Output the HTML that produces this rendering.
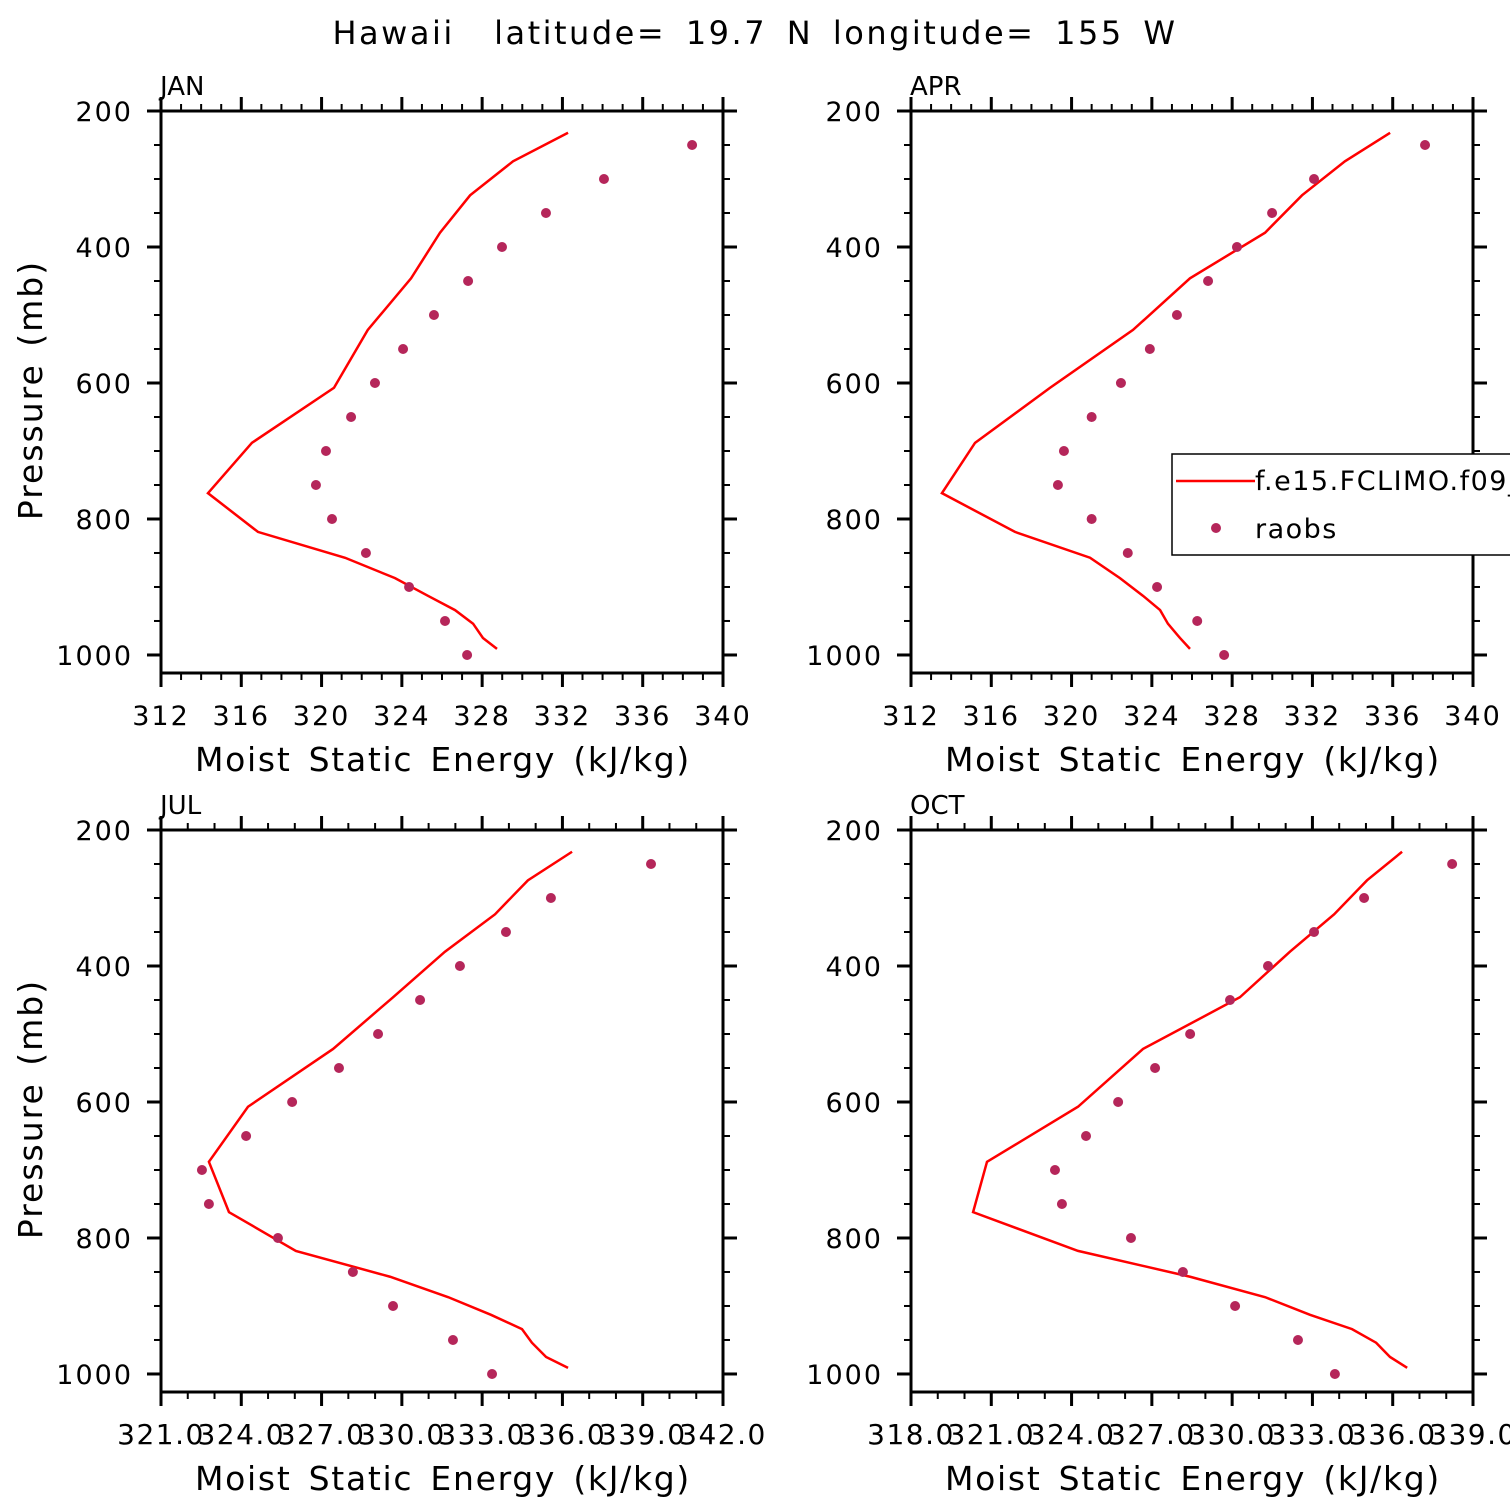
<!DOCTYPE html>
<html><head><meta charset="utf-8"><style>
body{margin:0;background:#fff}
svg{display:block}
text{font-family:"DejaVu Sans","Liberation Sans",sans-serif;fill:#000}
</style></head><body>
<svg id="chart" width="1510" height="1510" viewBox="0 0 1510 1510">
<rect width="1510" height="1510" fill="#fff"/>
<text x="755" y="44" font-size="32" text-anchor="middle" letter-spacing="2.5" word-spacing="7" xml:space="preserve">Hawaii  latitude= 19.7 N longitude= 155 W</text>
</svg>
<script>
const modelP=[232,274,324,379,446,522,607,688,762,819,857,887,913,934,954,975,991];
const obsP=[250,300,350,400,450,500,550,600,650,700,750,800,850,900,950,1000];
const janModel=[332.28,329.54,327.4,325.9,324.46,322.3,320.62,316.53,314.34,316.83,321.17,323.66,325.3,326.65,327.55,328.04,328.74];
const janObs=[338.46,334.07,331.18,328.99,327.3,325.6,324.06,322.66,321.47,320.22,319.72,320.52,322.21,324.36,326.15,327.25];
const aprModel=[335.87,333.62,331.48,329.64,325.9,323.06,318.93,315.19,313.54,317.18,320.92,322.41,323.56,324.41,324.8,325.4,325.9];
const aprObs=[337.61,332.08,329.99,328.24,326.8,325.25,323.9,322.46,321.0,319.62,319.32,321.0,322.8,324.26,326.26,327.6];
const julModel=[336.36,334.71,333.48,331.61,329.67,327.43,324.25,322.79,323.54,326.04,329.56,331.73,333.33,334.49,334.86,335.39,336.21];
const julObs=[339.31,335.57,333.89,332.17,330.68,329.11,327.65,325.9,324.18,322.53,322.79,325.37,328.17,329.67,331.91,333.37];
const octModel=[336.35,335.04,333.81,332.16,330.29,326.67,324.24,320.84,320.32,324.24,328.43,331.23,332.91,334.48,335.38,335.9,336.54];
const octObs=[338.22,334.93,333.06,331.34,329.92,328.43,327.12,325.74,324.54,323.38,323.64,326.22,328.16,330.11,332.46,333.84];
const pTicks=[200,400,600,800,1000];
const janTicks=[312,316,320,324,328,332,336,340];
const julTicks=[321,324,327,330,333,336,339,342];
const octTicks=[318,321,324,327,330,333,336,339];
const NS='http://www.w3.org/2000/svg';
const svg=document.getElementById('chart');
function mk(tag,attrs,parent){const e=document.createElementNS(NS,tag);for(const k in attrs)e.setAttribute(k,attrs[k]);(parent||svg).appendChild(e);return e;}
function panel(name,x0,y0,xmin,xmax,ticks,dec,model,obs){
  const W=562,H=562,pmin=200,pmax=1026.5;
  const g=mk('g',{});
  
  
  const X=v=>x0+(v-xmin)/(xmax-xmin)*W;
  const Y=p=>y0+(p-pmin)/(pmax-pmin)*H;
  const line=mk('polyline',{points:model.map((v,i)=>X(v)+','+Y(modelP[i])).join(' '),fill:'none',stroke:'#ff0000','stroke-width':2.5},g);
  
  
  obs.forEach((v,i)=>{const c=mk('circle',{cx:X(v),cy:Y(obsP[i]),r:5,fill:'#b5265a'},g);
    
    });
  mk('rect',{x:x0,y:y0,width:W,height:H,fill:'none',stroke:'#000','stroke-width':3},g);
  for(let v=xmin;v<=xmax+1e-6;v+=1){const maj=ticks.some(t=>Math.abs(t-v)<1e-6);const L=maj?14:7;const x=X(v);
    mk('line',{x1:x,y1:y0,x2:x,y2:y0-L,stroke:'#000','stroke-width':maj?3:2},g);
    mk('line',{x1:x,y1:y0+H,x2:x,y2:y0+H+L,stroke:'#000','stroke-width':maj?3:2},g);}
  ticks.forEach(t=>{const tx=mk('text',{x:X(t),y:y0+H+52,'font-size':dec?28:27,'text-anchor':'middle','letter-spacing':dec?1.5:2},g);tx.textContent=dec?t.toFixed(1):t;
    
    });
  for(let p=200;p<=1000;p+=50){const maj=p%200===0;const L=maj?14:7;const y=Y(p);
    mk('line',{x1:x0,y1:y,x2:x0-L,y2:y,stroke:'#000','stroke-width':maj?3:2},g);
    mk('line',{x1:x0+W,y1:y,x2:x0+W+L,y2:y,stroke:'#000','stroke-width':maj?3:2},g);}
  pTicks.forEach(p=>{const tx=mk('text',{x:x0-28,y:Y(p)+10,'font-size':27,'text-anchor':'end','letter-spacing':2},g);tx.textContent=p;
    
    });
  const t=mk('text',{x:x0-1,y:y0-16,'font-size':26},g);t.textContent=name;
  
  
  const xl=mk('text',{x:x0+W/2+1,y:y0+H+98,'font-size':33,'text-anchor':'middle','letter-spacing':1.7,'word-spacing':5},g);xl.textContent='Moist Static Energy (kJ/kg)';
  
  
  if(x0<500){const yl=mk('text',{x:0,y:0,'font-size':33,'text-anchor':'middle','letter-spacing':2,'word-spacing':4,transform:'translate(42,'+(y0+H/2-2)+') rotate(-90)'},g);yl.textContent='Pressure (mb)';
    
    }
}
panel('JAN',161,111,312,340,janTicks,false,janModel,janObs);
panel('APR',911,111,312,340,janTicks,false,aprModel,aprObs);
panel('JUL',161,830,321,342,julTicks,true,julModel,julObs);
panel('OCT',911,830,318,339,octTicks,true,octModel,octObs);
const lg=mk('g',{});


mk('rect',{x:1172,y:454,width:360,height:101,fill:'#fff',stroke:'#000','stroke-width':1.5},lg);
mk('line',{x1:1176,y1:481,x2:1255,y2:481,stroke:'#ff0000','stroke-width':2.5},lg);
const l1=mk('text',{x:1255,y:490,'font-size':27,'letter-spacing':1.5},lg);l1.textContent='f.e15.FCLIMO.f09_g16';


mk('circle',{cx:1216,cy:528,r:5,fill:'#b5265a'},lg);
const l2=mk('text',{x:1255,y:538,'font-size':27,'letter-spacing':1.5},lg);l2.textContent='raobs';


</script>
</body></html>
